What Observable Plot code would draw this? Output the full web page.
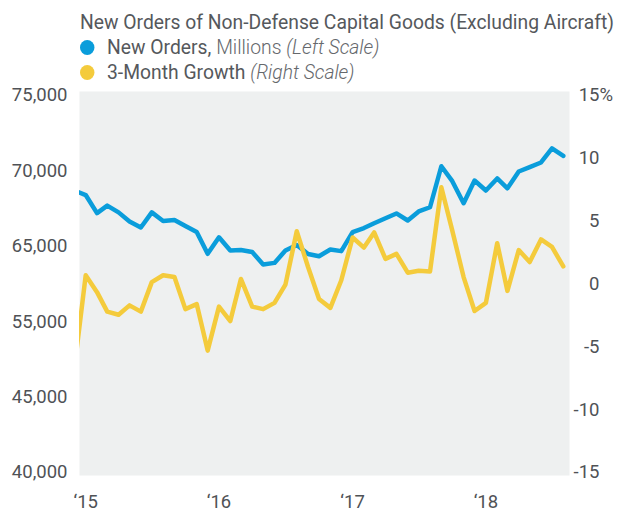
<!DOCTYPE html>
<html>
<head>
<meta charset="utf-8">
<script src="https://cdn.jsdelivr.net/npm/d3@7"></script>
<script src="https://cdn.jsdelivr.net/npm/@observablehq/plot@0.6"></script>
<style>
  html, body { margin: 0; padding: 0; background: #fff; }
  body { width: 629px; height: 512px; overflow: hidden;
         font-family: Roboto, 'Liberation Sans', sans-serif; color: #55585c; }
  #head { height: 85px; box-sizing: border-box; padding-top: 10px; padding-left: 80px; }
  .row { height: 25px; line-height: 25px; font-size: 20px; white-space: nowrap;
         transform: scaleX(0.965); transform-origin: 0 50%; }
  .lg { display: flex; align-items: center; }
  .dot { width: 15px; height: 15px; border-radius: 50%; display: inline-block; margin-right: 13px; }
  .light { font-weight: 300; color: #65686c; }
  .it { font-style: italic; font-weight: 300; color: #65686c; }
  #chart svg { display: block; }
</style>
</head>
<body>
<div id="head">
  <div class="row">New Orders of Non-Defense Capital Goods (Excluding Aircraft)</div>
  <div class="row lg"><span class="dot" style="background:#0a9ddb"></span><span>New Orders,&nbsp;</span><span class="light">Millions&nbsp;</span><span class="it">(Left Scale)</span></div>
  <div class="row lg"><span class="dot" style="background:#f4cb3c"></span><span>3-Month Growth&nbsp;</span><span class="it">(Right Scale)</span></div>
</div>
<div id="chart"></div>
<script>
// Monthly observations, Dec 2014 – Aug 2018
const months = [
  "2014-12",
  "2015-01","2015-02","2015-03","2015-04","2015-05","2015-06","2015-07","2015-08","2015-09","2015-10","2015-11","2015-12",
  "2016-01","2016-02","2016-03","2016-04","2016-05","2016-06","2016-07","2016-08","2016-09","2016-10","2016-11","2016-12",
  "2017-01","2017-02","2017-03","2017-04","2017-05","2017-06","2017-07","2017-08","2017-09","2017-10","2017-11","2017-12",
  "2018-01","2018-02","2018-03","2018-04","2018-05","2018-06","2018-07","2018-08"
];
// New orders, millions (left scale)
const newOrders = [
  68700,
  68400, 67200, 67700, 67250, 66650, 66250, 67250, 66680, 66750, 66350, 65950, 64500,
  65600, 64720, 64750, 64620, 63800, 63900, 64720, 65090, 64490, 64340, 64790, 64680,
  65940, 66210, 66530, 66860, 67180, 66710, 67310, 67590, 70310, 69320, 67860, 69360,
  68700, 69500, 68850, 69960, 70250, 70560, 71490, 70990
];
// 3-month growth, % (right scale)
const growth = [
  -6.7,
  0.7, -0.65, -2.2, -2.45, -1.7, -2.2, 0.15, 0.7, 0.55, -2.0, -1.6, -5.3,
  -1.8, -2.95, 0.4, -1.8, -2.0, -1.5, -0.05, 4.2, 1.35, -1.2, -1.9, 0.3,
  3.7, 2.9, 4.1, 2.0, 2.4, 0.9, 1.05, 1.0, 7.7, 4.25, 0.55, -2.15,
  -1.5, 3.25, -0.55, 2.7, 1.75, 3.55, 2.95, 1.4
];
// Axis ticks as printed on the original chart
const leftTickValues = [75000, 70000, 65000, 60000, 55000, 50000];
const leftTickLabels = ["75,000", "70,000", "65,000", "55,000", "45,000", "40,000"];
const rightTicks = [15, 10, 5, 0, -5, -10, -15];
const yearTicks = ["2015-01", "2016-01", "2017-01", "2018-01"];
const yearLabels = ["\u201815", "\u201816", "\u201817", "\u201818"];

const toDate = s => new Date(s + "-01T00:00:00Z");
const data = months.map((m, i) => ({date: toDate(m), orders: newOrders[i], growth: growth[i]}));

// left scale (millions) expressed on the right scale (%)
const leftToRight = L => (L - 62500) * 0.0012;
const rightToLeft = p => Math.round(p / 0.0012 + 62500);

const font = "Roboto, 'Liberation Sans', sans-serif";
const ink = "#4f5256";
const yearDates = yearTicks.map(toDate);

const chart = Plot.plot({
  width: 629,
  height: 427,
  marginLeft: 79,
  marginRight: 60,
  marginTop: 6,
  marginBottom: 37,
  style: {fontFamily: font, fontSize: "18.5px", color: ink, background: "transparent", overflow: "visible"},
  x: {type: "utc", domain: [new Date(Date.UTC(2014, 11, 15)), new Date(Date.UTC(2018, 7, 18))], label: null},
  y: {domain: [-15.24, 15.32], label: null},
  marks: [
    Plot.frame({fill: "#eef0f0", stroke: null}),
    Plot.line(data, {x: "date", y: d => leftToRight(d.orders), stroke: "#0a9ddb", strokeWidth: 4.5, strokeLinejoin: "round", strokeLinecap: "round", clip: true}),
    Plot.line(data, {x: "date", y: "growth", stroke: "#f4cb3c", strokeWidth: 4.5, strokeLinejoin: "round", strokeLinecap: "round", clip: true}),
    Plot.axisY(leftTickValues.map(leftToRight), {
      anchor: "left", label: null, tickSize: 0, tickPadding: 12, fontSize: 18.5, fill: ink,
      tickFormat: d => leftTickLabels[leftTickValues.indexOf(rightToLeft(d))]
    }),
    Plot.axisY(rightTicks, {
      anchor: "right", label: null, tickSize: 0, tickPadding: 30, textAnchor: "end", fontSize: 18.5, fill: ink,
      tickFormat: d => String(d)
    }),
    Plot.text(["%"], {y: [rightTicks[0]], frameAnchor: "right", dx: 30, textAnchor: "start", fontSize: 18.5, fill: ink}),
    Plot.axisX(yearDates, {
      anchor: "bottom", label: null, tickSize: 0, tickPadding: 19, fontSize: 18.5, fill: ink,
      tickFormat: d => yearLabels[yearDates.findIndex(t => +t === +d)]
    })
  ]
});
document.getElementById("chart").appendChild(chart);
</script>
</body>
</html>
